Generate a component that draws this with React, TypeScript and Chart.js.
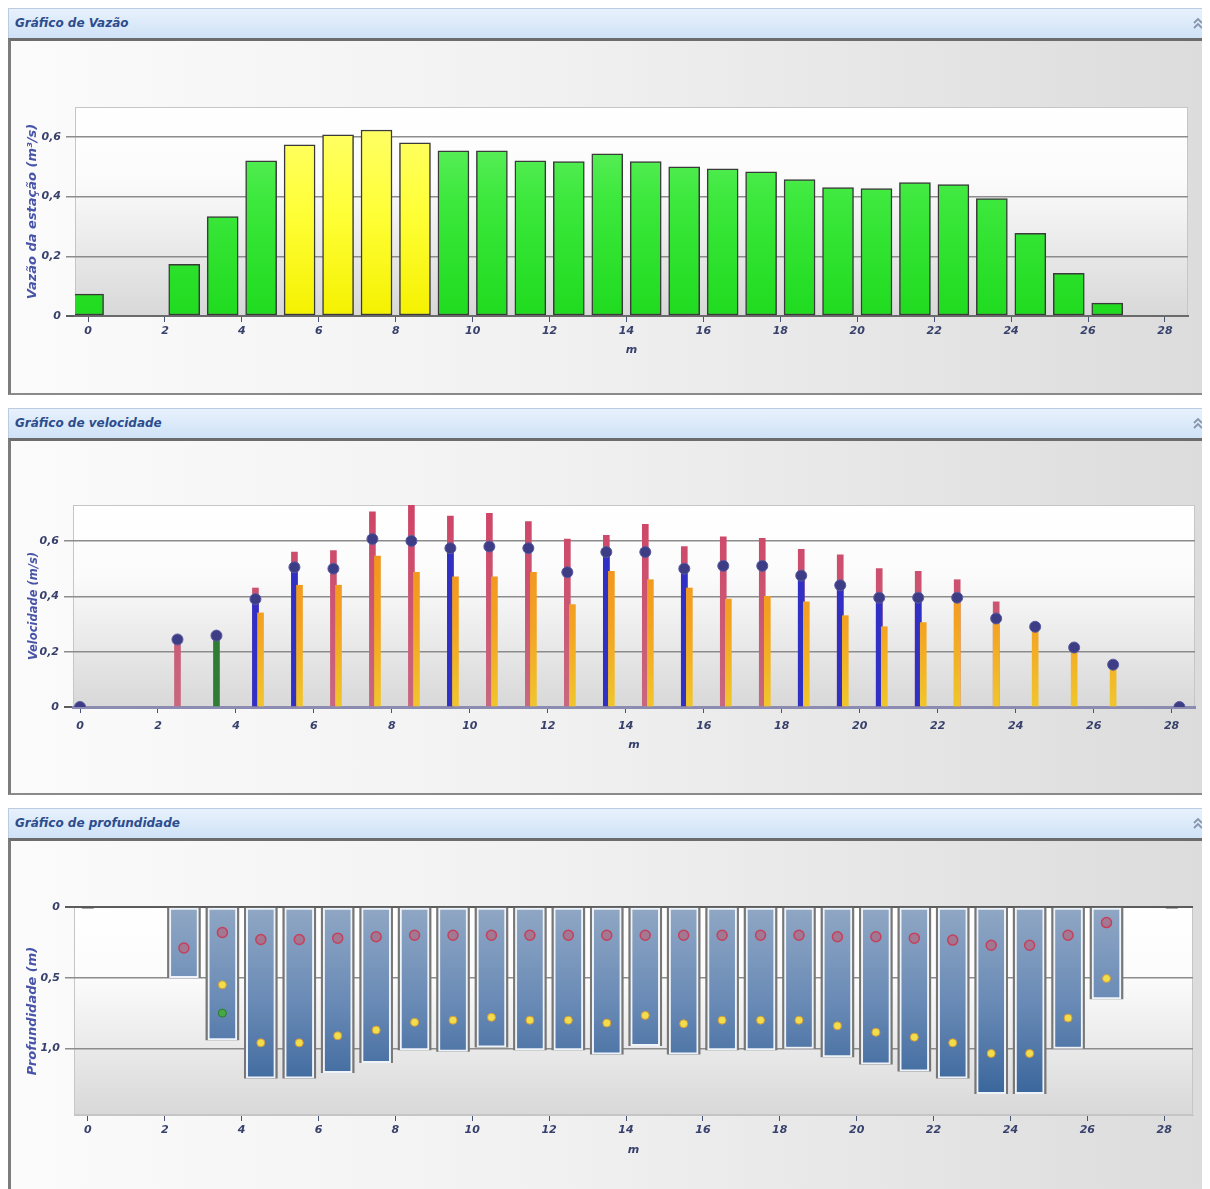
import React, { useEffect, useRef } from "react";
import { Chart, registerables } from "chart.js";

Chart.register(...registerables);

// ---------------- data ----------------
const stations = [2.5, 3.5, 4.5, 5.5, 6.5, 7.5, 8.5, 9.5, 10.5, 11.5, 12.5, 13.5, 14.5, 15.5, 16.5, 17.5, 18.5, 19.5, 20.5, 21.5, 22.5, 23.5, 24.5, 25.5, 26.5];
const xTicks = [0, 2, 4, 6, 8, 10, 12, 14, 16, 18, 20, 22, 24, 26, 28];
const xTickLabels = ["0", "2", "4", "6", "8", "10", "12", "14", "16", "18", "20", "22", "24", "26", "28"];

// Gráfico de Vazão
const flowStations = [0, 2.5, 3.5, 4.5, 5.5, 6.5, 7.5, 8.5, 9.5, 10.5, 11.5, 12.5, 13.5, 14.5, 15.5, 16.5, 17.5, 18.5, 19.5, 20.5, 21.5, 22.5, 23.5, 24.5, 25.5, 26.5];
const flowValues = [0.073, 0.173, 0.333, 0.52, 0.573, 0.607, 0.623, 0.58, 0.553, 0.553, 0.52, 0.517, 0.543, 0.517, 0.5, 0.493, 0.483, 0.457, 0.43, 0.427, 0.447, 0.44, 0.393, 0.277, 0.143, 0.043];
const highlightedStations = [5.5, 6.5, 7.5, 8.5];
const flowTicks = [0, 0.2, 0.4, 0.6];
const flowTickLabels = ["0", "0,2", "0,4", "0,6"];

// Gráfico de velocidade
const velMax = [0.244, null, 0.43, 0.56, 0.565, 0.705, 0.735, 0.69, 0.7, 0.67, 0.607, 0.62, 0.66, 0.58, 0.615, 0.61, 0.57, 0.55, 0.5, 0.49, 0.46, 0.38, null, null, null];
const velBlue = [null, null, 0.39, 0.505, null, null, null, 0.574, null, null, null, 0.56, null, 0.5, null, null, 0.475, 0.44, 0.395, 0.395, null, null, null, null, null];
const velOrange = [null, null, 0.34, 0.44, 0.44, 0.545, 0.487, 0.47, 0.47, 0.487, 0.37, 0.49, 0.46, 0.43, 0.39, 0.4, 0.38, 0.33, 0.29, 0.305, 0.395, 0.3, 0.29, 0.215, 0.153];
const orangeShifted = [0, 0, 1, 1, 1, 1, 1, 1, 1, 1, 1, 1, 1, 1, 1, 1, 1, 1, 1, 1, 0, 0, 0, 0, 0];
const greenStemStations = [3.5];
const greenStemValues = [0.258];
const velMeanStations = [0, 2.5, 3.5, 4.5, 5.5, 6.5, 7.5, 8.5, 9.5, 10.5, 11.5, 12.5, 13.5, 14.5, 15.5, 16.5, 17.5, 18.5, 19.5, 20.5, 21.5, 22.5, 23.5, 24.5, 25.5, 26.5, 28.2];
const velMean = [0, 0.244, 0.258, 0.39, 0.505, 0.5, 0.607, 0.6, 0.574, 0.58, 0.574, 0.487, 0.56, 0.56, 0.5, 0.51, 0.51, 0.475, 0.44, 0.395, 0.395, 0.395, 0.32, 0.29, 0.215, 0.153, 0];
const velTicks = [0, 0.2, 0.4, 0.6];
const velTickLabels = ["0", "0,2", "0,4", "0,6"];

// Gráfico de profundidade
const depths = [0.5, 0.94, 1.21, 1.21, 1.17, 1.1, 1.01, 1.02, 0.99, 1.01, 1.01, 1.04, 0.98, 1.04, 1.01, 1.01, 1.0, 1.06, 1.11, 1.16, 1.21, 1.32, 1.32, 1.0, 0.65];
const upperPointDepth = [0.29, 0.18, 0.23, 0.23, 0.22, 0.21, 0.2, 0.2, 0.2, 0.2, 0.2, 0.2, 0.2, 0.2, 0.2, 0.2, 0.2, 0.21, 0.21, 0.22, 0.234, 0.27, 0.27, 0.2, 0.11];
const lowerPointDepth = [null, 0.55, 0.96, 0.96, 0.91, 0.87, 0.815, 0.8, 0.78, 0.8, 0.8, 0.82, 0.766, 0.825, 0.8, 0.8, 0.8, 0.84, 0.885, 0.92, 0.96, 1.035, 1.035, 0.785, 0.505];
const greenPointStations = [3.5];
const greenPointDepth = [0.75];
const bankStations = [0, 28.2];
const bankDepth = [0, 0];
const depthTicks = [0, 0.5, 1.0];
const depthTickLabels = ["0", "0,5", "1,0"];

// ---------------- styling helpers ----------------
const FONT = "'DejaVu Sans', Verdana, sans-serif";
const TICK_COLOR = "#38406c";
const TITLE_COLOR = "#4754a8";
const CANVAS_W = 1191;
const CANVAS_H = 352;

function vGrad(chart: any, stops: [number, string][]) {
  const a = chart.chartArea;
  if (!a) return stops[stops.length - 1][1];
  const g = chart.ctx.createLinearGradient(0, a.top, 0, a.bottom);
  stops.forEach(([o, c]) => g.addColorStop(o, c));
  return g;
}

const plotBackground = {
  id: "plotBackground",
  beforeDraw(chart: any) {
    const { ctx, chartArea: a } = chart;
    if (!a) return;
    ctx.save();
    const g = ctx.createLinearGradient(0, a.top, 0, a.bottom);
    g.addColorStop(0, "#ffffff");
    g.addColorStop(0.35, "#fbfbfb");
    g.addColorStop(1, "#d8d8d8");
    ctx.fillStyle = g;
    ctx.fillRect(a.left, a.top, a.right - a.left, a.bottom - a.top);
    ctx.strokeStyle = "#c6c6c6";
    ctx.lineWidth = 1;
    ctx.strokeRect(a.left + 0.5, a.top + 0.5, a.right - a.left - 1, a.bottom - a.top - 1);
    ctx.restore();
  },
};

function xAxis(o: { min: number; max: number; height: number; tickPad: number; titlePad: number; border: string; borderWidth: number }) {
  return {
    type: "linear",
    position: "bottom",
    min: o.min,
    max: o.max,
    offset: false,
    afterBuildTicks: (s: any) => {
      s.ticks = xTicks.map((v) => ({ value: v }));
    },
    afterFit: (s: any) => {
      s.height = o.height;
    },
    ticks: {
      autoSkip: false,
      maxRotation: 0,
      padding: o.tickPad,
      color: TICK_COLOR,
      font: { family: FONT, size: 11, style: "italic", weight: "bold" },
      callback: (_v: any, i: number) => xTickLabels[i],
    },
    grid: { display: true, drawOnChartArea: false, drawTicks: true, tickLength: 6, tickColor: "#4a5276", offset: false },
    border: { display: true, color: o.border, width: o.borderWidth },
    title: {
      display: true,
      text: "m",
      color: TICK_COLOR,
      font: { family: FONT, size: 11, style: "italic", weight: "bold" },
      padding: { top: 0, bottom: o.titlePad },
    },
  };
}

function yAxis(o: { max: number; reverse?: boolean; ticks: number[]; labels: string[]; title: string; titleSize: number; width: number; titleOffset: number }) {
  return {
    type: "linear",
    position: "left",
    min: 0,
    max: o.max,
    reverse: !!o.reverse,
    afterBuildTicks: (s: any) => {
      s.ticks = o.ticks.map((v) => ({ value: v }));
    },
    afterFit: (s: any) => {
      s.width = o.width;
    },
    ticks: {
      padding: 5,
      color: TICK_COLOR,
      font: { family: FONT, size: 11, style: "italic", weight: "bold" },
      callback: (_v: any, i: number) => o.labels[i],
    },
    grid: {
      color: (c: any) => (c.tick && c.tick.value === 0 ? "#5c5c5c" : "#8c8c8c"),
      lineWidth: (c: any) => (c.tick && c.tick.value === 0 ? 2 : 1.5),
      drawTicks: true,
      tickLength: 9,
    },
    border: { display: false },
    title: {
      display: true,
      text: o.title,
      color: TITLE_COLOR,
      font: { family: FONT, size: o.titleSize, style: "italic", weight: "bold" },
      padding: { top: o.titleOffset, bottom: 0 },
    },
  };
}

const baseOptions = (padRight: number, padTop: number) => ({
  responsive: false,
  animation: false,
  devicePixelRatio: 1,
  layout: { padding: { top: padTop, right: padRight, bottom: 0, left: 0 } },
  plugins: { legend: { display: false }, tooltip: { enabled: false } },
});

// ---------------- chart configs ----------------
function flowConfig(): any {
  const green: [number, string][] = [[0, "#6af26a"], [0.45, "#3ce83c"], [1, "#1fdb1f"]];
  const yellow: [number, string][] = [[0, "#ffff70"], [0.5, "#ffff38"], [1, "#f5f100"]];
  return {
    type: "bar",
    data: {
      datasets: [
        {
          label: "Vazão",
          data: flowStations.map((x, i) => ({ x, y: flowValues[i] })),
          backgroundColor: (c: any) =>
            vGrad(c.chart, c.raw && highlightedStations.includes(c.raw.x) ? yellow : green),
          borderColor: "#3a3a3a",
          borderWidth: 1.5,
          borderSkipped: false,
          barThickness: 31,
          grouped: false,
        },
      ],
    },
    options: {
      ...baseOptions(14, 66),
      scales: {
        x: xAxis({ min: -0.34, max: 28.6, height: 77, tickPad: 3, titlePad: 36, border: "#6a6a6a", borderWidth: 2 }),
        y: yAxis({ max: 0.7, ticks: flowTicks, labels: flowTickLabels, title: "Vazão da estação (m³/s)", titleSize: 13, width: 64, titleOffset: 14 }),
      },
    },
    plugins: [plotBackground],
  };
}

function velocityConfig(): any {
  const stem = { type: "bar", grouped: false, barThickness: 6, borderWidth: 0 };
  return {
    type: "bar",
    data: {
      datasets: [
        {
          type: "scatter",
          label: "Velocidade média",
          data: velMeanStations.map((x, i) => ({ x, y: velMean[i] })),
          pointRadius: 5.5,
          backgroundColor: "#3d3d85",
          borderColor: "#5a5aa0",
          borderWidth: 1,
          order: 0,
        },
        {
          ...stem,
          label: "green",
          data: greenStemStations.map((x, i) => ({ x, y: greenStemValues[i] })),
          backgroundColor: "#2e7d32",
          order: 1,
        },
        {
          ...stem,
          label: "orange",
          data: stations
            .map((x, i) => ({ x: x + orangeShifted[i] * 0.13, y: velOrange[i] }))
            .filter((p) => p.y != null),
          backgroundColor: (c: any) => vGrad(c.chart, [[0, "#f08a1c"], [0.6, "#f3a322"], [1, "#f0c62c"]]),
          order: 2,
        },
        {
          ...stem,
          label: "blue",
          data: stations.map((x, i) => ({ x, y: velBlue[i] })).filter((p) => p.y != null),
          backgroundColor: "#3030c4",
          order: 3,
        },
        {
          ...stem,
          label: "red",
          data: stations.map((x, i) => ({ x, y: velMax[i] })).filter((p) => p.y != null),
          backgroundColor: (c: any) => vGrad(c.chart, [[0, "#cf4466"], [1, "#c8687e"]]),
          order: 4,
        },
      ],
    },
    options: {
      ...baseOptions(7, 64),
      scales: {
        x: xAxis({ min: -0.18, max: 28.6, height: 86, tickPad: 7, titlePad: 41, border: "#8c8cb2", borderWidth: 3 }),
        y: yAxis({ max: 0.73, ticks: velTicks, labels: velTickLabels, title: "Velocidade (m/s)", titleSize: 11.5, width: 62, titleOffset: 16 }),
      },
    },
    plugins: [plotBackground],
  };
}

function depthConfig(): any {
  return {
    type: "bar",
    data: {
      datasets: [
        {
          type: "scatter",
          label: "margem",
          data: bankStations.map((x, i) => ({ x, y: bankDepth[i] })),
          pointStyle: "line",
          pointRadius: 6,
          borderColor: "#555555",
          borderWidth: 3,
          order: 0,
        },
        {
          type: "scatter",
          label: "ponto inferior",
          data: stations.map((x, i) => ({ x, y: lowerPointDepth[i] })).filter((p) => p.y != null),
          pointRadius: 4,
          backgroundColor: "#f2de4c",
          borderColor: "#d09a3c",
          borderWidth: 1,
          order: 1,
        },
        {
          type: "scatter",
          label: "ponto verde",
          data: greenPointStations.map((x, i) => ({ x, y: greenPointDepth[i] })),
          pointRadius: 4,
          backgroundColor: "#44a844",
          borderColor: "#2e7a2e",
          borderWidth: 1,
          order: 1,
        },
        {
          type: "scatter",
          label: "ponto superior",
          data: stations.map((x, i) => ({ x, y: upperPointDepth[i] })),
          pointRadius: 5,
          backgroundColor: "rgba(170,110,135,0.8)",
          borderColor: "#c4405c",
          borderWidth: 1.5,
          order: 2,
        },
        {
          label: "profundidade",
          data: stations.map((x, i) => ({ x, y: [0, depths[i]] })),
          backgroundColor: (c: any) => vGrad(c.chart, [[0, "#90a7c4"], [0.45, "#6a8bb6"], [1, "#305e96"]]),
          borderColor: "#eef3f9",
          borderWidth: 2,
          borderSkipped: false,
          barThickness: 29,
          grouped: false,
          order: 3,
        },
        {
          label: "contorno",
          data: stations.map((x, i) => ({ x, y: [0, depths[i]] })),
          backgroundColor: "#777777",
          borderWidth: 0,
          barThickness: 33,
          grouped: false,
          order: 4,
        },
      ],
    },
    options: {
      ...baseOptions(7, 66),
      scales: {
        x: xAxis({ min: -0.36, max: 28.75, height: 78, tickPad: 3, titlePad: 36, border: "#c4c4c4", borderWidth: 1 }),
        y: yAxis({ max: 1.47, reverse: true, ticks: depthTicks, labels: depthTickLabels, title: "Profundidade (m)", titleSize: 13, width: 63, titleOffset: 14 }),
      },
    },
    plugins: [plotBackground],
  };
}

// ---------------- components ----------------
function ChartCanvas({ make }: { make: () => any }) {
  const ref = useRef<HTMLCanvasElement>(null);
  useEffect(() => {
    const chart = new Chart(ref.current as HTMLCanvasElement, make());
    return () => chart.destroy();
  }, []);
  return <canvas ref={ref} width={CANVAS_W} height={CANVAS_H} style={{ display: "block", width: CANVAS_W, height: CANVAS_H }} />;
}

function Panel({ title, make }: { title: string; make: () => any }) {
  return (
    <div style={{ width: 1202, marginBottom: 13 }}>
      <div
        style={{
          position: "relative",
          height: 30,
          boxSizing: "border-box",
          background: "linear-gradient(#e8f1fc, #cfe2f7)",
          border: "1px solid #b9cce2",
          borderBottom: "none",
          paddingLeft: 6,
          lineHeight: "29px",
          fontFamily: FONT,
          fontStyle: "italic",
          fontWeight: "bold",
          fontSize: 12,
          color: "#2c4c8e",
          whiteSpace: "nowrap",
        }}
      >
        {title}
        <svg width="10" height="12" style={{ position: "absolute", right: 6, top: 8 }}>
          <polyline points="1,6 5,2 9,6" stroke="#8796ae" strokeWidth="1.8" fill="none" />
          <polyline points="1,11 5,7 9,11" stroke="#8796ae" strokeWidth="1.8" fill="none" />
        </svg>
      </div>
      <div
        style={{
          width: 1197,
          boxSizing: "border-box",
          borderTop: "3px solid #6c6c6c",
          borderLeft: "3px solid #7c7c7c",
          borderRight: "3px solid #8a8a8a",
          borderBottom: "2px solid #8a8a8a",
          background: "linear-gradient(to right, #fbfbfb 0%, #f1f1f1 45%, #dcdcdc 100%)",
        }}
      >
        <ChartCanvas make={make} />
      </div>
    </div>
  );
}

export default function App() {
  return (
    <div style={{ width: 1202 }}>
      <Panel title="Gráfico de Vazão" make={flowConfig} />
      <Panel title="Gráfico de velocidade" make={velocityConfig} />
      <Panel title="Gráfico de profundidade" make={depthConfig} />
    </div>
  );
}
